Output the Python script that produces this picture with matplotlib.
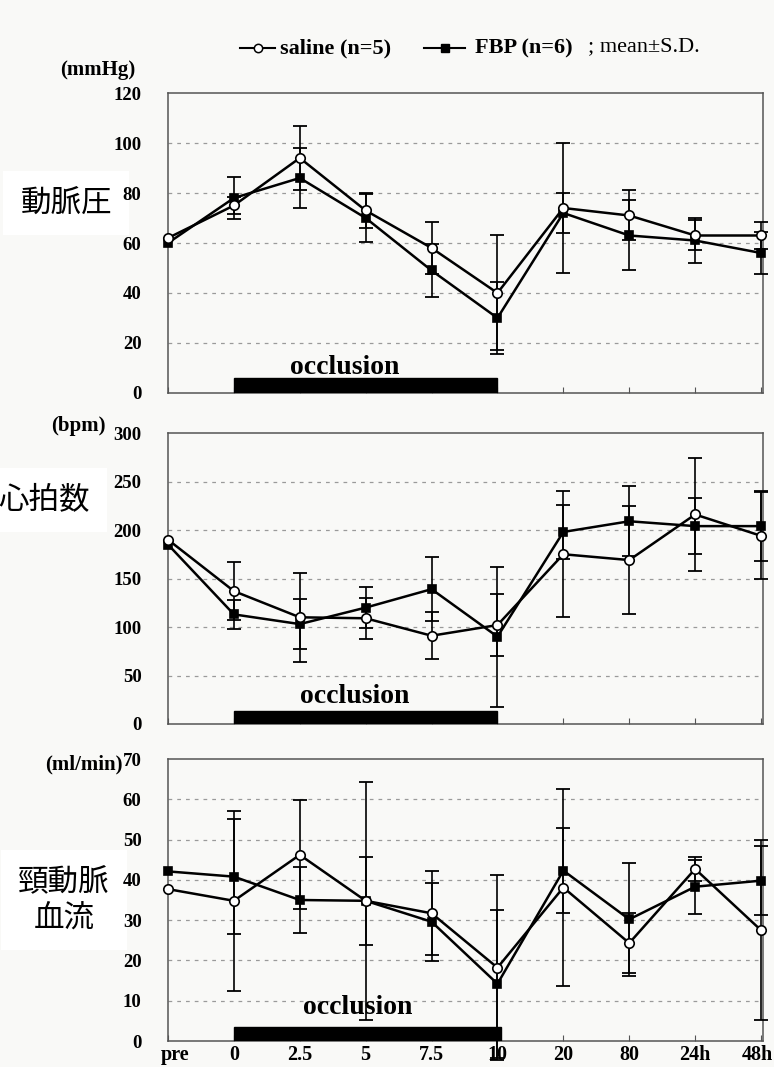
import numpy as np
import matplotlib
matplotlib.use("Agg")
import matplotlib.pyplot as plt
from matplotlib.lines import Line2D
import matplotlib.transforms as mtransforms

nan = np.nan
xlabels = ["pre", "0", "2.5", "5", "7.5", "10", "20", "80", "24h", "48h"]

bp_saline = [62, 75, 94, 73, 58, 40, 74, 71, 63, 63]
bp_saline_sd = [nan, 3.5, 13, 7, 10.5, 23, 26, 10, 6, 5.5]
bp_fbp = [60, 78, 86, 70, 49, 30, 72, 63, 61, 56]
bp_fbp_sd = [nan, 8.5, 12, 9.5, 10.5, 14.5, 8, 14, 9, 8.3]

hr_saline = [190, 137, 110, 109, 91, 102, 175, 169, 216, 194]
hr_saline_sd = [nan, 30, 46, 21, 24, 32, 65, 56, 58, 45]
hr_fbp = [185, 113, 103, 120, 139, 90, 198, 209, 204, 204]
hr_fbp_sd = [nan, 15, 26, 21, 33, 72, 28, 36, 29, 36]

cbf_saline = [37.7, 34.8, 46.2, 34.8, 31.7, 18.2, 38.1, 24.3, 42.7, 27.5]
cbf_saline_sd = [nan, 22.3, 13.5, 29.6, 10.4, 23, 24.4, 7.5, 3, 22.3]
cbf_fbp = [42.1, 40.8, 35, 34.8, 29.6, 14.2, 42.3, 30.2, 38.3, 39.8]
cbf_fbp_sd = [nan, 14.2, 8.3, 10.9, 9.7, 18.3, 10.6, 14, 6.7, 8.5]

W, H = 774, 1067
fig = plt.figure(figsize=(W / 100, H / 100), dpi=100)
bg = "#f9f9f7"
fig.patch.set_facecolor(bg)

serif = ["Liberation Serif", "DejaVu Serif"]
jp = ["Noto Sans CJK JP", "DejaVu Sans"]

def px_axes(left, right, top, bottom):
    return fig.add_axes([left / W, 1 - bottom / H, (right - left) / W, (bottom - top) / H])

panels = [
    dict(box=(168, 763, 93, 393), ylim=(0, 120), yticks=np.arange(0, 121, 20),
         s=bp_saline, ssd=bp_saline_sd, f=bp_fbp, fsd=bp_fbp_sd,
         occ_x=2.68, occ_y=0.064, bar_end=5.0, bar_h=0.05),
    dict(box=(168, 763, 433, 724), ylim=(0, 300), yticks=np.arange(0, 301, 50),
         s=hr_saline, ssd=hr_saline_sd, f=hr_fbp, fsd=hr_fbp_sd,
         occ_x=2.83, occ_y=0.072, bar_end=5.0, bar_h=0.045),
    dict(box=(168, 763, 759, 1041), ylim=(0, 70), yticks=np.arange(0, 71, 10),
         s=cbf_saline, ssd=cbf_saline_sd, f=cbf_fbp, fsd=cbf_fbp_sd,
         occ_x=2.88, occ_y=0.095, bar_end=5.05, bar_h=0.05),
]

x = np.arange(len(xlabels))

def draw_series(ax, y, sd, marker, mfc, ms, z):
    y = np.asarray(y, float)
    sd = np.asarray(sd, float)
    ax.plot(x, y, '-', color='black', lw=1.8, marker=marker, mfc=mfc, mec='black',
            ms=ms, mew=1.2, zorder=z, clip_on=False)
    m = np.isfinite(sd)
    ax.errorbar(x[m], y[m], yerr=sd[m], fmt='none', ecolor='black', elinewidth=1.2,
                capsize=4.8, capthick=1.3, zorder=z - 1, clip_on=False)

for i, p in enumerate(panels):
    ax = px_axes(*p["box"])
    ax.set_facecolor(bg)
    ax.set_xlim(0, 9.03)
    ax.set_ylim(*p["ylim"])
    ax.set_yticks(p["yticks"])
    ax.set_yticklabels([str(int(v)) for v in p["yticks"]], fontfamily=serif,
                       fontweight='bold', fontsize=13.5)
    ax.tick_params(axis='y', length=0, pad=19)
    ax.set_xticks(x)
    if i == 2:
        ax.set_xticklabels(xlabels, fontfamily=serif, fontweight='bold', fontsize=14.5)
        ax.tick_params(axis='x', direction='in', length=4, pad=3, color='#555555')
        tl = ax.get_xticklabels()
        tl[0].set_transform(tl[0].get_transform() +
                            mtransforms.ScaledTranslation(7 / 100, 0, fig.dpi_scale_trans))
        tl[-1].set_transform(tl[-1].get_transform() +
                             mtransforms.ScaledTranslation(-4 / 100, 0, fig.dpi_scale_trans))
    else:
        ax.set_xticklabels([])
        ax.tick_params(axis='x', direction='in', length=4, color='#555555')
    for yv in p["yticks"][1:-1]:
        ax.axhline(yv, color='#9a9a9a', lw=0.9, ls=(0, (3, 4)), zorder=0)
    for sp in ax.spines.values():
        sp.set_color('#555555')
        sp.set_linewidth(1.1)
    draw_series(ax, p["s"], p["ssd"], 'o', 'white', 6.8, 5)
    draw_series(ax, p["f"], p["fsd"], 's', 'black', 6.2, 4)
    trans = mtransforms.blended_transform_factory(ax.transData, ax.transAxes)
    ax.add_patch(plt.Rectangle((1, 0), p["bar_end"] - 1, p["bar_h"], transform=trans,
                               color='black', zorder=3))
    ax.text(p["occ_x"], p["occ_y"], "occlusion", transform=trans, ha='center',
            va='baseline', fontfamily=serif, fontweight='bold', fontsize=20, zorder=3)

# overlay for annotations
ov = fig.add_axes([0, 0, 1, 1], zorder=-1)
ov.set_xlim(0, W)
ov.set_ylim(H, 0)
ov.axis('off')

# legend
ov.add_line(Line2D([240, 275], [48, 48], color='black', lw=1.5))
ov.plot([257.5], [48], 'o', mfc='white', mec='black', ms=6, mew=1.1)
ov.text(280, 48, "saline (n=5)", ha='left', va='center', fontfamily=serif,
        fontweight='bold', fontsize=16)
ov.add_line(Line2D([424, 465], [48, 48], color='black', lw=1.5))
ov.plot([444.5], [48], 's', color='black', ms=6)
ov.text(475, 48, "FBP (n=6)", ha='left', va='center', fontfamily=serif,
        fontweight='bold', fontsize=16)
ov.text(588, 47, "; mean\u00b1S.D.", ha='left', va='center', fontfamily=serif,
        fontsize=16)

# unit labels
ov.text(98, 70, "(mmHg)", ha='center', va='center', fontfamily=serif,
        fontweight='bold', fontsize=15)
ov.text(78, 426, "(bpm)", ha='center', va='center', fontfamily=serif,
        fontweight='bold', fontsize=15)
ov.text(84, 764, "(ml/min)", ha='center', va='center', fontfamily=serif,
        fontweight='bold', fontsize=15)

# Japanese labels
box = dict(facecolor='white', edgecolor='none', pad=12)
ov.text(66, 203, "動脈圧", ha='center', va='center', fontfamily=jp, fontsize=22, bbox=box)
ov.text(44, 500, "心拍数", ha='center', va='center', fontfamily=jp, fontsize=22, bbox=box)
ov.text(64, 900, "頸動脈\n血流", ha='center', va='center', fontfamily=jp, fontsize=22,
        linespacing=1.2, bbox=box)

fig.savefig("out.png", dpi=100, facecolor=fig.get_facecolor())
